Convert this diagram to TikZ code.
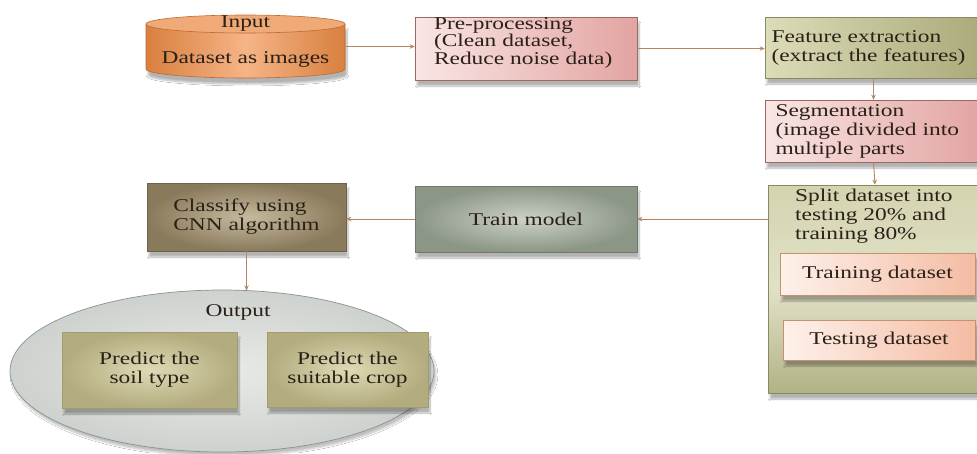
\documentclass[tikz,border=0pt]{standalone}
\usepackage{fontspec}
\setmainfont[FakeStretch=1.3]{Liberation Serif}
\usetikzlibrary{shapes.geometric,arrows.meta,shadows.blur,calc}
\definecolor{arrowc}{HTML}{B48660}
\definecolor{txt}{HTML}{2A2018}
\definecolor{cylA}{HTML}{D8803F}
\definecolor{cylB}{HTML}{F6B487}
\definecolor{cylTop}{HTML}{F0AA78}
\definecolor{cylLine}{HTML}{C06A30}
\definecolor{pinkL}{HTML}{F9E6E4}
\definecolor{pinkR}{HTML}{E2A4A2}
\definecolor{pinkLine}{HTML}{9A6A60}
\definecolor{oliveL}{HTML}{DCDCB8}
\definecolor{oliveR}{HTML}{AAAA7A}
\definecolor{splitA}{HTML}{D4D4B0}
\definecolor{splitB}{HTML}{B2B286}
\definecolor{peachL}{HTML}{FDF1EA}
\definecolor{peachR}{HTML}{F4BCA4}
\definecolor{peachLine}{HTML}{C8906C}
\definecolor{clsIn}{HTML}{C6BA9E}
\definecolor{clsOut}{HTML}{8A7A5C}
\definecolor{trIn}{HTML}{CCD2C4}
\definecolor{trOut}{HTML}{8C9686}
\definecolor{ellIn}{HTML}{E8EAE8}
\definecolor{ellOut}{HTML}{CED2CE}
\definecolor{ellLine}{HTML}{8E928E}
\definecolor{prIn}{HTML}{DEDAB4}
\definecolor{prOut}{HTML}{B2AC7E}
\definecolor{prLine}{HTML}{A09C70}
\begin{document}
\begin{tikzpicture}[x=1pt,y=-1pt,
  lbl/.style={font=\fontsize{18}{19}\selectfont, text=txt, inner sep=0pt},
  box/.style={rectangle, lbl, line width=0.6pt,
    blur shadow={shadow xshift=2pt, shadow yshift=-6pt, shadow opacity=30, shadow blur steps=8}},
  pinkbox/.style={box, draw=pinkLine, left color=pinkL, right color=pinkR},
  olivebox/.style={box, draw=oliveR!80!black, left color=oliveL, right color=oliveR},
  peachbox/.style={box, draw=peachLine, left color=peachL, right color=peachR},
  prbox/.style={box, draw=prLine, inner color=prIn, outer color=prOut, align=center},
  arr/.style={draw=arrowc, line width=0.9pt, -{Stealth[length=5pt,width=4.5pt]}}
]
\useasboundingbox (0,0) rectangle (977,453);
\fill[white] (0,0) rectangle (977,453);

% Input cylinder
\path[left color=cylA, right color=cylA, middle color=cylB,
  blur shadow={shadow xshift=2pt, shadow yshift=-6pt, shadow opacity=30, shadow blur steps=8}]
  (146,24) -- (146,69) .. controls (146,74) and (190.6,78) .. (245.5,78)
  .. controls (300.4,78) and (345,74) .. (345,69) -- (345,24) -- cycle;
\draw[cylLine, line width=0.6pt]
  (146,24) -- (146,69) .. controls (146,74) and (190.6,78) .. (245.5,78)
  .. controls (300.4,78) and (345,74) .. (345,69) -- (345,24);
\filldraw[fill=cylTop, draw=cylLine, line width=0.6pt] (245.5,24) ellipse[x radius=99.5pt, y radius=9pt];
\node[minimum width=199pt, minimum height=63pt, inner sep=0pt] (inp) at (245.5,46.5) {};
\node[lbl] (inptitle) at (245.5,24) {Input};
\node[lbl] (inpbody) at (245.5,59) {Dataset as images};

% Pre-processing
\node[pinkbox, minimum width=222pt, minimum height=63pt, text width=184pt, align=left,
  font=\fontsize{18}{15.5}\selectfont]
  (pre) at (526,48.5) {Pre-processing\\(Clean dataset,\\Reduce noise data)\\\mbox{}};

% Feature extraction
\node[olivebox, minimum width=217pt, minimum height=61pt, text width=204pt, align=left]
  (feat) at (873.5,47.5) {Feature extraction\\(extract the features)};

% Segmentation
\node[pinkbox, minimum width=217pt, minimum height=62pt, text width=196pt, align=left]
  (seg) at (873.5,131) {Segmentation\\(image divided into\\multiple parts};

% Split container
\node[box, draw=oliveR!80!black, top color=splitA, bottom color=splitB, middle color=splitA!70!white,
  minimum width=214pt, minimum height=208pt] (split) at (875,289) {};
\node[lbl, anchor=north west, align=left] (splittxt) at (795,189) {Split dataset into\\testing 20\% and\\training 80\%};
\node[peachbox, minimum width=195pt, minimum height=42pt] (trainds) at (877.5,274) {Training dataset};
\node[peachbox, minimum width=192pt, minimum height=40pt] (testds) at (879,340) {Testing dataset};

% Train model
\node[box, draw=trOut!80!black, inner color=trIn, outer color=trOut,
  minimum width=222pt, minimum height=66pt] (train) at (526,219) {Train model};

% Classify
\node[box, draw=clsOut!80!black, inner color=clsIn, outer color=clsOut,
  minimum width=199pt, minimum height=68pt, align=left] (cls) at (246.5,217) {Classify using\\CNN algorithm};

% Output ellipse
\node[ellipse, draw=ellLine, line width=0.7pt, inner color=ellIn, outer color=ellOut,
  minimum width=424pt, minimum height=162pt,
  blur shadow={shadow xshift=2pt, shadow yshift=-4pt, shadow opacity=25, shadow blur steps=8}]
  (out) at (222,371) {};
\node[lbl] (outlbl) at (238,312) {Output};
\node[prbox, minimum width=175pt, minimum height=76pt] (soil) at (149.5,370) {Predict the\\soil type};
\node[prbox, minimum width=161pt, minimum height=75pt] (crop) at (347.5,369.5) {Predict the\\suitable crop};

% Connectors
\draw[arr] (inp.east) -- (inp.east -| pre.west);
\draw[arr] (pre.east) -- (pre.east -| feat.west);
\draw[arr] (feat.south) -- (seg.north);
\draw[arr] (seg.south) -- (split.north);
\draw[arr] (train.east -| split.west) -- (train.east);
\draw[arr] (train.west) -- (train.west -| cls.east);
\draw[arr] (cls.south) -- ($(cls.south |- out.north)+(0,0.8)$);
\end{tikzpicture}
\end{document}
